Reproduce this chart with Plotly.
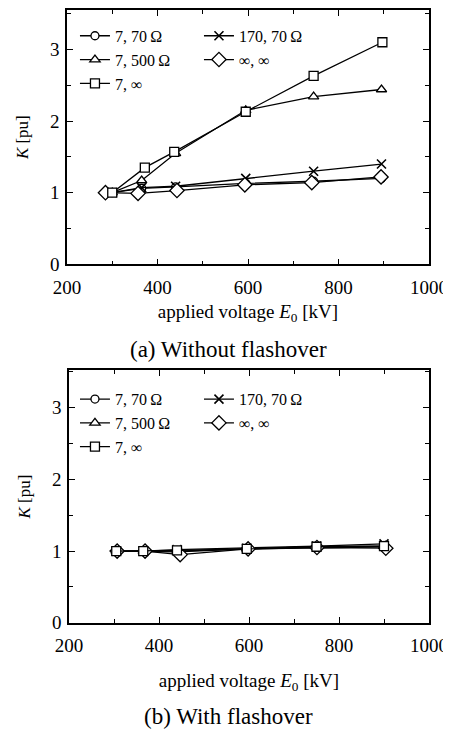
import plotly.graph_objects as go

FONT = "Liberation Serif"

# ---- data: (a) without flashover ----
series_names = ["7, 70\u2009\u03a9", "170, 70\u2009\u03a9", "7, 500\u2009\u03a9", "\u221e, \u221e", "7, \u221e"]
symbols = ["circle", "x-thin", "triangle-up", "diamond", "square"]
sizes = [8, 9, 9, 11, 9]

xa_common = [300, 365, 440, 595, 745, 895]
xa_diamond = [285, 357, 443, 593, 741, 894]
xa_square = [300, 372, 437, 595, 745, 897]

ya_7_70 = [1.00, 1.06, 1.08, 1.13, 1.16, 1.20]
ya_170_70 = [1.00, 1.07, 1.09, 1.20, 1.30, 1.40]
ya_7_500 = [1.00, 1.17, 1.55, 2.15, 2.34, 2.44]
ya_inf_inf = [1.00, 0.99, 1.03, 1.11, 1.14, 1.22]
ya_7_inf = [1.00, 1.35, 1.57, 2.13, 2.63, 3.10]

# ---- data: (b) with flashover ----
xb_common = [305, 365, 440, 595, 750, 900]
xb_diamond = [307, 369, 447, 598, 751, 904]

yb_7_70 = [1.00, 1.00, 0.99, 1.03, 1.05, 1.06]
yb_170_70 = [1.00, 1.00, 1.02, 1.04, 1.07, 1.10]
yb_7_500 = [1.00, 1.00, 1.00, 1.03, 1.06, 1.07]
yb_inf_inf = [1.00, 1.00, 0.95, 1.03, 1.05, 1.04]
yb_7_inf = [1.00, 1.00, 1.01, 1.03, 1.06, 1.07]

x_tick_vals = [200, 400, 600, 800, 1000]
y_tick_vals = [0, 1, 2, 3]

panel_a = [
    (xa_common, ya_7_70), (xa_common, ya_170_70), (xa_common, ya_7_500),
    (xa_diamond, ya_inf_inf), (xa_square, ya_7_inf),
]
panel_b = [
    (xb_common, yb_7_70), (xb_common, yb_170_70), (xb_common, yb_7_500),
    (xb_diamond, yb_inf_inf), (xb_common, yb_7_inf),
]

fig = go.Figure()

def add_panel(data, xax, yax, legend):
    for i, (xs, ys) in enumerate(data):
        sym = symbols[i]
        if sym == "x-thin":
            marker = dict(symbol=sym, size=sizes[i], color="black",
                          line=dict(color="black", width=1.6))
        else:
            marker = dict(symbol=sym, size=sizes[i], color="white",
                          line=dict(color="black", width=1.3))
        fig.add_trace(go.Scatter(
            x=xs, y=ys, mode="lines+markers", name=series_names[i],
            line=dict(color="black", width=1.3), marker=marker,
            xaxis=xax, yaxis=yax, legend=legend, showlegend=True,
        ))

add_panel(panel_a, "x", "y", "legend")
add_panel(panel_b, "x2", "y2", "legend2")

axis_common = dict(
    showline=True, linecolor="black", linewidth=1.5, mirror="ticks",
    ticks="inside", ticklen=6, tickwidth=1.2, tickcolor="black",
    showgrid=False, zeroline=False,
    tickfont=dict(family=FONT, size=19, color="black"),
)
xtitle = "applied voltage <i>E</i><sub>0</sub> [kV]"
xcommon = dict(axis_common, range=[200, 1000], tickmode="array", tickvals=x_tick_vals,
               minor=dict(dtick=100, ticks="inside", ticklen=4, tickcolor="black"),
               ticklabelstandoff=5)
ycommon = dict(axis_common, tickmode="array", tickvals=y_tick_vals,
               minor=dict(dtick=0.5, ticks="inside", ticklen=4, tickcolor="black"),
               ticklabelstandoff=2,
               title=dict(text="<i>K</i> [pu]",
                          font=dict(family=FONT, size=17, color="black"), standoff=17))

# the page body adds an 8 px margin; the figure is sized so the page fits 451x738
W, H = 443, 722
legend_common = dict(orientation="h", x=0.022, xanchor="left", yanchor="top",
                     entrywidth=79, bgcolor="rgba(0,0,0,0)",
                     font=dict(family=FONT, size=16, color="black"), itemwidth=30)
fig.update_layout(
    width=W, height=H,
    margin=dict(l=59, r=22, t=0, b=0),
    paper_bgcolor="white", plot_bgcolor="white",
    xaxis=dict(xcommon, domain=[0, 1], anchor="y",
               title=dict(text=xtitle, font=dict(family=FONT, size=19, color="black"), standoff=8)),
    yaxis=dict(ycommon, domain=[1 - 259 / H, 1], range=[0, 3.55], anchor="x"),
    xaxis2=dict(xcommon, domain=[2 / 362, 1], anchor="y2",
                title=dict(text=xtitle, font=dict(family=FONT, size=19, color="black"), standoff=18)),
    yaxis2=dict(ycommon, domain=[1 - 624 / H, 1 - 367 / H], range=[0, 3.52], anchor="x2"),
    legend=dict(legend_common, y=1 - 9 / H),
    legend2=dict(legend_common, y=1 - 379 / H),
    annotations=[
        dict(text="(a) Without flashover", x=(220 - 59) / 362, y=1 - 346 / H,
             xref="paper", yref="paper", showarrow=False,
             font=dict(family=FONT, size=23, color="black"),
             xanchor="center", yanchor="middle"),
        dict(text="(b) With flashover", x=(220 - 59) / 362, y=1 - 719 / H,
             xref="paper", yref="paper", showarrow=False,
             font=dict(family=FONT, size=23, color="black"),
             xanchor="center", yanchor="middle"),
    ],
)

fig.write_html("out.html")
